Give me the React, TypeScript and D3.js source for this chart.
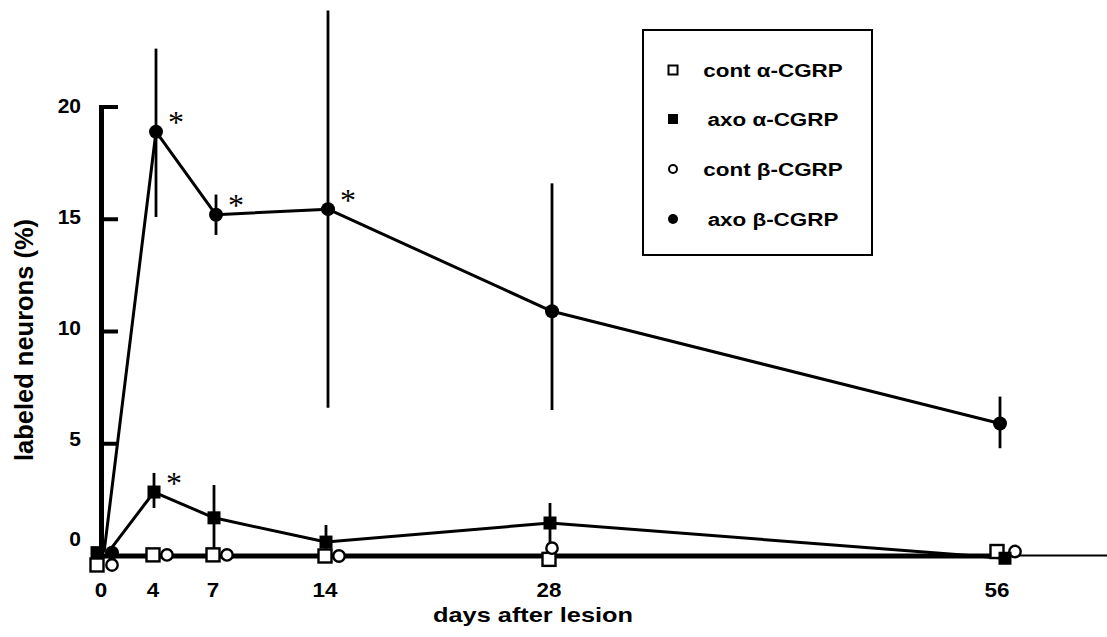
import React from "react";
import * as d3 from "d3";

// ---- data ----
const days = [0, 4, 7, 14, 28, 56];
const contAlpha = [-0.4, 0.05, 0.05, 0, -0.15, 0.2];
const axoAlpha = [0.15, 2.85, 1.7, 0.62, 1.47, -0.1];
const axoAlphaUpper = [null, 3.7, 3.16, 1.38, 2.36, null];
const axoAlphaLower = [null, 2.14, 0.05, 0.27, 0.5, null];
const contBeta = [-0.4, 0.05, 0.05, 0, 0.35, 0.2];
const axoBeta = [0.15, 18.9, 15.2, 15.45, 10.9, 5.9];
const axoBetaUpper = [null, 22.6, 16.1, 24.3, 16.6, 7.1];
const axoBetaLower = [null, 15.1, 14.3, 6.6, 6.5, 4.8];
const axoAlphaSig = [false, true, false, false, false, false];
const axoBetaSig = [false, true, true, true, false, false];
const yTicks = [0, 5, 10, 15, 20];
const xTicks = [0, 4, 7, 14, 28, 56];
const legendLabels = ["cont α-CGRP", "axo α-CGRP", "cont β-CGRP", "axo β-CGRP"];
const xTitle = "days after lesion";
const yTitle = "labeled neurons (%)";

const FONT = "'Liberation Sans', Arial, Helvetica, sans-serif";

export default function App() {
  const W = 1107;
  const H = 637;
  const x = d3.scaleLinear().domain([0, 4, 7, 56]).range([104, 156, 216, 1000]);
  const y = d3.scaleLinear().domain([0, 20]).range([556, 107]);
  const yLab = d3.scaleLinear().domain([0, 5, 20]).range([538, 438, 105.5]);

  // horizontal dodge so overlapping markers stay visible
  const offs = days.map((d, i) => {
    const filledOverlap = Math.abs(axoAlpha[i] - axoBeta[i]) < 1;
    const contOverlap = Math.abs(contAlpha[i] - contBeta[i]) < 0.3;
    const lastCrowd = Math.abs(axoAlpha[i] - contAlpha[i]) < 0.5;
    return {
      aA: filledOverlap ? -7 : lastCrowd ? 5 : -2,
      aB: filledOverlap ? 8 : 0,
      cA: filledOverlap ? -7 : -3,
      cB: filledOverlap ? 8 : contOverlap ? (lastCrowd ? 15 : 11) : 0,
    };
  });

  const lineGen = d3
    .line<[number, number]>()
    .x((p) => p[0])
    .y((p) => p[1]);

  const axoBetaPath = lineGen(days.map((d, i) => [x(d) + (i === 0 ? 0 : offs[i].aB), y(axoBeta[i])]));
  const axoAlphaPath = lineGen(days.map((d, i) => [x(d) + (i === 0 ? 4 : offs[i].aA), y(axoAlpha[i])]));

  const sq = 13;
  const rF = 7;
  const rO = 5.7;

  const errBars = (vals: (number | null)[], lows: (number | null)[], key: "aA" | "aB") =>
    days.map((d, i) =>
      vals[i] == null ? null : (
        <line
          key={key + i}
          x1={x(d) + offs[i][key]}
          x2={x(d) + offs[i][key]}
          y1={y(vals[i] as number)}
          y2={y(lows[i] as number)}
          stroke="#000"
          strokeWidth={2.8}
        />
      )
    );

  const starOf = (sig: boolean[], vals: number[], key: "aA" | "aB") =>
    days.map((d, i) =>
      sig[i] ? (
        <text
          key={"s" + key + i}
          x={x(d) + offs[i][key] + 20}
          y={y(vals[i]) - 14.5 + 16}
          textAnchor="middle"
          fontFamily="'Liberation Serif', 'Times New Roman', serif"
          fontSize={32}
          fill="#000"
        >
          *
        </text>
      ) : null
    );

  const legendRows = [70, 119, 169, 219];
  const legendMarker = (i: number, cy: number) => {
    const cx = 673;
    if (i === 0)
      return <rect x={cx - 4.5} y={cy - 4.5} width={9} height={9} fill="#fff" stroke="#000" strokeWidth={2} />;
    if (i === 1) return <rect x={cx - 5} y={cy - 5} width={10} height={10} fill="#000" />;
    if (i === 2) return <circle cx={cx} cy={cy} r={4} fill="#fff" stroke="#000" strokeWidth={2} />;
    return <circle cx={cx} cy={cy} r={5} fill="#000" />;
  };

  return (
    <svg
      width={W}
      height={H}
      style={{ position: "absolute", left: 0, top: 0, background: "#fff" }}
      fontFamily={FONT}
    >
      <rect x={0} y={0} width={W} height={H} fill="#fff" />

      {/* x axis (thick up to last point, thin beyond) */}
      <line x1={99} x2={x(56) + 6} y1={y(0)} y2={y(0)} stroke="#000" strokeWidth={5} />
      <line x1={x(56) + 6} x2={W} y1={y(0) - 0.5} y2={y(0) - 0.5} stroke="#000" strokeWidth={2.2} />

      {/* y axis */}
      <line x1={101.5} x2={101.5} y1={y(20) - 2} y2={y(0) + 2.5} stroke="#000" strokeWidth={5} />
      {yTicks
        .filter((t) => t > 0)
        .map((t) => (
          <line key={"yt" + t} x1={101} x2={118} y1={y(t)} y2={y(t)} stroke="#000" strokeWidth={4} />
        ))}
      {yTicks.map((t) => (
        <text
          key={"yl" + t}
          x={81}
          y={yLab(t) + 7.5}
          textAnchor="end"
          fontSize={21}
          fontWeight="bold"
          fill="#000"
        >
          {t}
        </text>
      ))}

      {/* x tick labels */}
      {xTicks.map((t) => (
        <g key={"xl" + t} transform={`translate(${x(t) - 3},597) scale(1.12,1)`}>
          <text x={0} y={0} textAnchor="middle" fontSize={20} fontWeight="bold" fill="#000">
            {t}
          </text>
        </g>
      ))}

      {/* axis titles */}
      <text
        x={433}
        y={622}
        fontSize={20.5}
        fontWeight="bold"
        textLength={200}
        lengthAdjust="spacingAndGlyphs"
        fill="#000"
      >
        {xTitle}
      </text>
      <text
        transform={`translate(33,340) rotate(-90)`}
        textAnchor="middle"
        fontSize={25}
        fontWeight="bold"
        textLength={242}
        lengthAdjust="spacingAndGlyphs"
        fill="#000"
      >
        {yTitle}
      </text>

      {/* lines */}
      <path d={axoBetaPath || ""} fill="none" stroke="#000" strokeWidth={3} strokeLinejoin="round" />
      <path d={axoAlphaPath || ""} fill="none" stroke="#000" strokeWidth={3} strokeLinejoin="round" />

      {/* error bars */}
      {errBars(axoBetaUpper, axoBetaLower, "aB")}
      {errBars(axoAlphaUpper, axoAlphaLower, "aA")}

      {/* markers: cont alpha (open squares) */}
      {days.map((d, i) => (
        <rect
          key={"ca" + i}
          x={x(d) + offs[i].cA - sq / 2}
          y={y(contAlpha[i]) - sq / 2}
          width={sq}
          height={sq}
          fill="#fff"
          stroke="#000"
          strokeWidth={2.4}
        />
      ))}
      {/* cont beta (open circles) */}
      {days.map((d, i) => (
        <circle
          key={"cb" + i}
          cx={x(d) + offs[i].cB}
          cy={y(contBeta[i])}
          r={rO}
          fill="#fff"
          stroke="#000"
          strokeWidth={2.4}
        />
      ))}
      {/* axo alpha (filled squares) */}
      {days.map((d, i) => (
        <rect
          key={"aa" + i}
          x={x(d) + offs[i].aA - sq / 2}
          y={y(axoAlpha[i]) - sq / 2}
          width={sq}
          height={sq}
          fill="#000"
        />
      ))}
      {/* axo beta (filled circles) */}
      {days.map((d, i) => (
        <circle key={"ab" + i} cx={x(d) + offs[i].aB} cy={y(axoBeta[i])} r={rF} fill="#000" />
      ))}

      {/* significance stars */}
      {starOf(axoBetaSig, axoBeta, "aB")}
      {starOf(axoAlphaSig, axoAlpha, "aA")}

      {/* legend */}
      <rect x={643} y={30} width={229} height={225} fill="#fff" stroke="#000" strokeWidth={2} />
      {legendLabels.map((lab, i) => (
        <g key={"lg" + i}>
          {legendMarker(i, legendRows[i])}
          <g transform={`translate(773,${legendRows[i] + 7}) scale(1.18,1)`}>
            <text x={0} y={0} textAnchor="middle" fontSize={19} fontWeight="bold" fill="#000">
              {lab}
            </text>
          </g>
        </g>
      ))}
    </svg>
  );
}
